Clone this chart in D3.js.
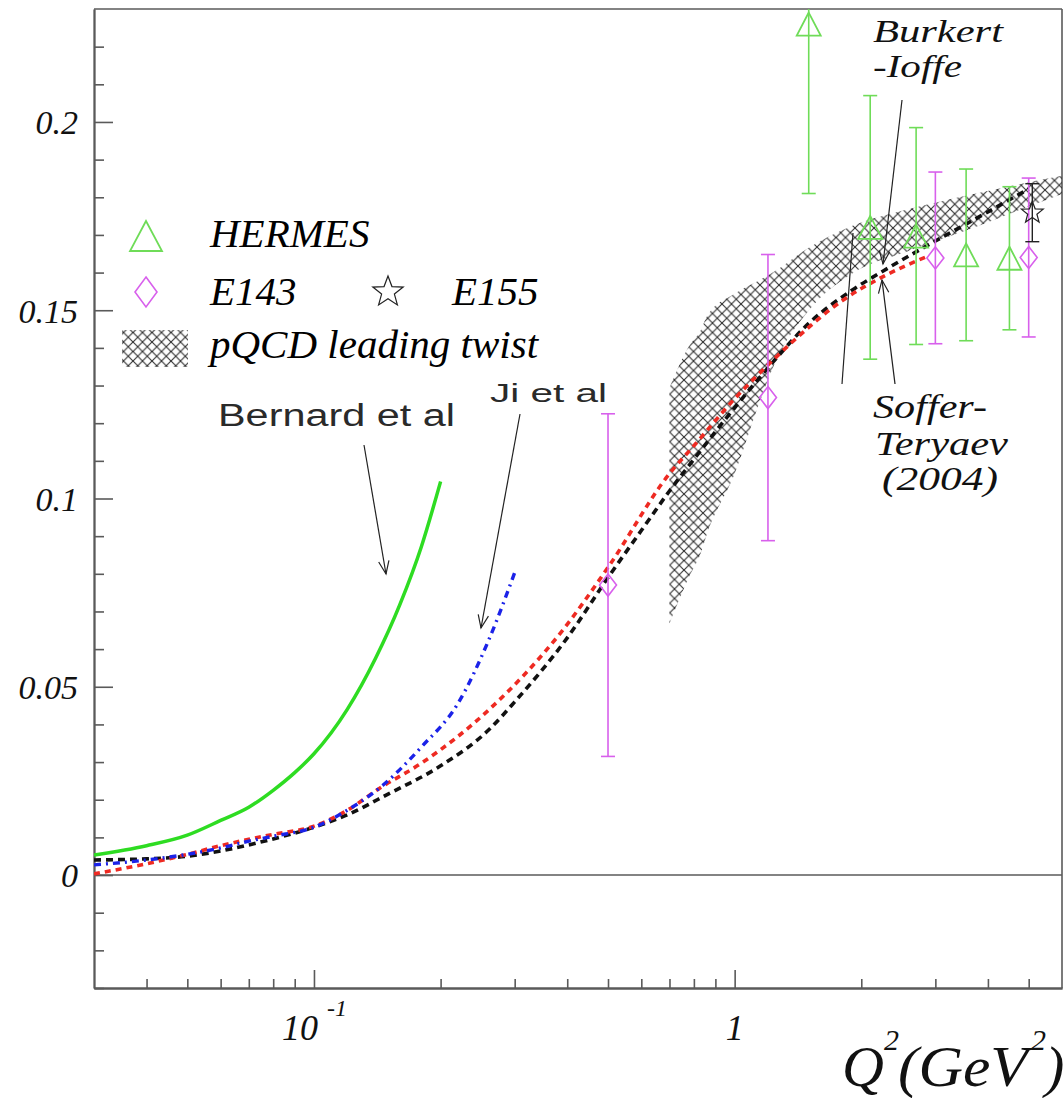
<!DOCTYPE html>
<html>
<head>
<meta charset="utf-8">
<script src="https://cdn.jsdelivr.net/npm/d3@7"></script>
<style>
  html, body { margin: 0; padding: 0; background: #fff; }
  svg { display: block; }
  .serif { font-family: "Liberation Serif", "DejaVu Serif", serif; font-style: italic; }
  .sans { font-family: "Liberation Sans", "DejaVu Sans", sans-serif; }
</style>
</head>
<body>
<svg id="chart" width="1064" height="1098"></svg>
<script>
// ---- data -------------------------------------------------------------
// HERMES points: Q^2, value, error
const hermesQ2  = [1.5, 2.1, 2.7, 3.55, 4.5];
const hermesVal = [0.226, 0.172, 0.1697, 0.1647, 0.1638];
const hermesErr = [0.045, 0.035, 0.0288, 0.0228, 0.019];

// E143 points
const e143Q2  = [0.5, 1.2, 3.0, 5.0];
const e143Val = [0.0770, 0.1268, 0.1639, 0.1640];
const e143Err = [0.0455, 0.038, 0.0228, 0.0211];

// E155 point
const e155Q2  = [5.1];
const e155Val = [0.1759];
const e155Err = [0.0077];

// Bernard et al (chiral perturbation theory)
const bernardQ2  = [0.03, 0.04, 0.05, 0.06, 0.07, 0.08, 0.09, 0.10, 0.12, 0.14, 0.16, 0.18, 0.20];
const bernardVal = [0.0053, 0.0078, 0.0106, 0.0145, 0.0180, 0.0225, 0.0272, 0.0322, 0.0440, 0.0575, 0.0718, 0.0872, 0.1045];

// Ji et al
const jiQ2  = [0.03, 0.04, 0.05, 0.06, 0.07, 0.08, 0.10, 0.12, 0.146, 0.18, 0.22, 0.26, 0.30];
const jiVal = [0.0027, 0.0040, 0.0055, 0.0072, 0.0090, 0.0103, 0.0127, 0.0172, 0.0239, 0.0340, 0.0456, 0.0623, 0.0803];

// Burkert-Ioffe
const biQ2  = [0.03, 0.04, 0.05, 0.06, 0.07, 0.08, 0.10, 0.12, 0.15, 0.20, 0.26, 0.30, 0.40, 0.50, 0.60, 0.70, 0.83, 1.0, 1.2, 1.5, 1.9, 2.26, 2.8, 3.7, 5.0];
const biVal = [0.0040, 0.0043, 0.0050, 0.0064, 0.0080, 0.0096, 0.0127, 0.0160, 0.0215, 0.0290, 0.0385, 0.0460, 0.0630, 0.0790, 0.0915, 0.1020, 0.1127, 0.1241, 0.1347, 0.1465, 0.1553, 0.1605, 0.1665, 0.1740, 0.1822];

// Soffer-Teryaev (2004)
const stQ2  = [0.03, 0.035, 0.04, 0.05, 0.06, 0.07, 0.08, 0.10, 0.12, 0.143, 0.18, 0.26, 0.39, 0.50, 0.70, 0.80, 1.0, 1.24, 1.4, 1.8, 2.26, 2.9];
const stVal = [0.0003, 0.0017, 0.0030, 0.0055, 0.0078, 0.0095, 0.0108, 0.0130, 0.0172, 0.0230, 0.0297, 0.0438, 0.0650, 0.0817, 0.1066, 0.1140, 0.1265, 0.1370, 0.1425, 0.1525, 0.1590, 0.1645];

// pQCD leading twist band
const bandQ2 = [0.70, 0.78, 0.83, 0.86, 1.0, 1.15, 1.24, 1.5, 1.9, 2.6, 3.7, 4.9, 6.0];
const bandLo = [0.0668, 0.0793, 0.0854, 0.0907, 0.1066, 0.1260, 0.1353, 0.1499, 0.1597, 0.1658, 0.1719, 0.1772, 0.1809];
const bandHi = [0.1294, 0.1406, 0.1446, 0.1485, 0.1544, 0.1581, 0.1602, 0.1666, 0.1724, 0.1769, 0.1809, 0.1838, 0.1857];

// axis ticks
const yMajorTicks  = [0, 0.05, 0.1, 0.15, 0.2];
const yTickLabels  = ["0", "0.05", "0.1", "0.15", "0.2"];
const yMinorTicks  = [-0.03, -0.02, -0.01, 0.01, 0.02, 0.03, 0.04, 0.06, 0.07, 0.08, 0.09, 0.11, 0.12, 0.13, 0.14, 0.16, 0.17, 0.18, 0.19, 0.21, 0.22];
const xMajorTicks  = [0.1, 1];
const xMinorTicks  = [0.04, 0.05, 0.06, 0.07, 0.08, 0.09, 0.2, 0.3, 0.4, 0.5, 0.6, 0.7, 0.8, 0.9, 2, 3, 4, 5];

// ---- layout -------------------------------------------------------------
const svg = d3.select("#chart");
const L = 94, R = 1062, T = 9, B = 988;
const x = d3.scaleLog().domain([0.03, 6]).range([L, R]);
const y = d3.scaleLinear().domain([-0.03, 0.23]).range([B, T]);

const axisColor = "#5a5a5a";
const greenLine = "#2edc22";
const greenMark = "#6fdc58";
const magenta   = "#d860ec";

const defs = svg.append("defs");
defs.append("clipPath").attr("id", "plotClip")
  .append("rect").attr("x", L).attr("y", T).attr("width", R - L).attr("height", B - T);

// cross-hatch pattern for the pQCD band
const hs = 9.5;
const hatch = defs.append("pattern").attr("id", "hatch")
  .attr("patternUnits", "userSpaceOnUse").attr("width", hs).attr("height", hs);
hatch.append("path")
  .attr("d", `M0,0 L${hs},${hs} M${hs},0 L0,${hs} M-1,${hs - 1} L1,${hs + 1} M${hs - 1},-1 L${hs + 1},1`)
  .attr("stroke", "#2c2c2c").attr("stroke-width", 1.1).attr("fill", "none");

// frame: top and right edges, zero line
svg.append("line").attr("x1", L).attr("x2", R).attr("y1", T).attr("y2", T)
  .attr("stroke", axisColor).attr("stroke-width", 1.6);
svg.append("line").attr("x1", R).attr("x2", R).attr("y1", T).attr("y2", B)
  .attr("stroke", axisColor).attr("stroke-width", 1.6);
svg.append("line").attr("x1", L).attr("x2", R).attr("y1", y(0)).attr("y2", y(0))
  .attr("stroke", axisColor).attr("stroke-width", 1.6);

// ---- axes -------------------------------------------------------------
function styleAxis(g) {
  g.select(".domain").attr("stroke", axisColor).attr("stroke-width", 1.8);
  g.selectAll(".tick line").attr("stroke", axisColor).attr("stroke-width", 1.6);
}

// y axis: major ticks with labels, minor ticks inside
const yAxisMajor = d3.axisLeft(y).tickValues(yMajorTicks)
  .tickSizeInner(-19).tickSizeOuter(0).tickPadding(16)
  .tickFormat((d, i) => yTickLabels[i]);
svg.append("g").attr("transform", `translate(${L},0)`).call(yAxisMajor).call(styleAxis)
  .call(g => g.selectAll("text").attr("class", "serif").attr("font-size", 34)
    .attr("fill", "#111").attr("dy", "0.35em"));
svg.append("g").attr("transform", `translate(${L},0)`)
  .call(d3.axisLeft(y).tickValues(yMinorTicks).tickSizeInner(-10).tickSizeOuter(0).tickFormat(""))
  .call(styleAxis);

// x axis: log decades with labels, minor ticks inside
const xAxisMajor = d3.axisBottom(x).tickValues(xMajorTicks)
  .tickSizeInner(-18).tickSizeOuter(0).tickFormat("");
svg.append("g").attr("transform", `translate(0,${B})`).call(xAxisMajor).call(styleAxis);
svg.append("g").attr("transform", `translate(0,${B})`)
  .call(d3.axisBottom(x).tickValues(xMinorTicks).tickSizeInner(-9).tickSizeOuter(0).tickFormat(""))
  .call(styleAxis);

// decade labels: 10^-1 and 1
const dec = svg.append("text").attr("class", "serif").attr("font-size", 36).attr("fill", "#111")
  .attr("x", x(0.1) - 32).attr("y", 1040);
dec.append("tspan").text("10");
dec.append("tspan").attr("font-size", 24).attr("dy", -24).attr("dx", 9).text("-1");
svg.append("text").attr("class", "serif").attr("font-size", 36).attr("fill", "#111")
  .attr("x", x(1)).attr("y", 1040).attr("text-anchor", "middle").text("1");

// axis title Q^2(GeV^2)
const title = svg.append("text").attr("class", "serif").attr("font-size", 58).attr("fill", "#111");
title.append("tspan").attr("x", 842).attr("y", 1086).text("Q");
title.append("tspan").attr("x", 884).attr("y", 1050).attr("font-size", 30).text("2");
title.append("tspan").attr("x", 898).attr("y", 1086)
  .attr("textLength", 130).attr("lengthAdjust", "spacingAndGlyphs").text("(GeV");
title.append("tspan").attr("x", 1031).attr("y", 1050).attr("font-size", 30).text("2");
title.append("tspan").attr("x", 1045).attr("y", 1086).text(")");

// ---- plot content -----------------------------------------------------
const plot = svg.append("g").attr("clip-path", "url(#plotClip)");

// pQCD band
const bandData = bandQ2.map((q, i) => ({ q, lo: bandLo[i], hi: bandHi[i] }));
plot.append("path").datum(bandData)
  .attr("d", d3.area().x(d => x(d.q)).y0(d => y(d.lo)).y1(d => y(d.hi)).curve(d3.curveMonotoneX))
  .attr("fill", "url(#hatch)");

// curves
const line = d3.line().x(d => x(d[0])).y(d => y(d[1])).curve(d3.curveMonotoneX);
const zip = (a, b) => a.map((v, i) => [v, b[i]]);

plot.append("path").datum(zip(bernardQ2, bernardVal)).attr("d", line)
  .attr("fill", "none").attr("stroke", greenLine).attr("stroke-width", 3.5);
plot.append("path").datum(zip(biQ2, biVal)).attr("d", line)
  .attr("fill", "none").attr("stroke", "#111").attr("stroke-width", 3.6).attr("stroke-dasharray", "7,5");
plot.append("path").datum(zip(stQ2, stVal)).attr("d", line)
  .attr("fill", "none").attr("stroke", "#ee2a22").attr("stroke-width", 3.6).attr("stroke-dasharray", "6,5");
plot.append("path").datum(zip(jiQ2, jiVal)).attr("d", line)
  .attr("fill", "none").attr("stroke", "#1b22e8").attr("stroke-width", 3.4).attr("stroke-dasharray", "7,5,2,5");

// marker shapes
function trianglePath(w, h) { return `M0,${-h / 2} L${w / 2},${h / 2} L${-w / 2},${h / 2} Z`; }
function diamondPath(w, h) { return `M0,${-h / 2} L${w / 2},0 L0,${h / 2} L${-w / 2},0 Z`; }
function starPath(r) {
  const pts = [];
  for (let k = 0; k < 10; k++) {
    const rr = k % 2 === 0 ? r : r * 0.42;
    const a = -Math.PI / 2 + k * Math.PI / 5;
    pts.push([rr * Math.cos(a), rr * Math.sin(a)]);
  }
  return "M" + pts.map(p => p.join(",")).join("L") + "Z";
}

// error bars with caps
function errorBars(q2, val, err, color, width) {
  const g = plot.append("g").attr("stroke", color).attr("stroke-width", width).attr("fill", "none");
  q2.forEach((q, i) => {
    const cx = x(q), y1 = y(val[i] + err[i]), y2 = y(val[i] - err[i]);
    g.append("line").attr("x1", cx).attr("x2", cx).attr("y1", y1).attr("y2", y2);
    g.append("line").attr("x1", cx - 7).attr("x2", cx + 7).attr("y1", y1).attr("y2", y1);
    g.append("line").attr("x1", cx - 7).attr("x2", cx + 7).attr("y1", y2).attr("y2", y2);
  });
}

errorBars(e143Q2, e143Val, e143Err, magenta, 1.6);
errorBars(hermesQ2, hermesVal, hermesErr, greenMark, 1.6);
errorBars(e155Q2, e155Val, e155Err, "#222", 1.4);

plot.append("g").selectAll("path").data(e143Q2).join("path")
  .attr("transform", (q, i) => `translate(${x(q)},${y(e143Val[i])})`)
  .attr("d", diamondPath(17, 22)).attr("fill", "none")
  .attr("stroke", magenta).attr("stroke-width", 1.6);
plot.append("g").selectAll("path").data(hermesQ2).join("path")
  .attr("transform", (q, i) => `translate(${x(q)},${y(hermesVal[i])})`)
  .attr("d", trianglePath(24, 23)).attr("fill", "none")
  .attr("stroke", greenMark).attr("stroke-width", 1.8);
plot.append("g").selectAll("path").data(e155Q2).join("path")
  .attr("transform", (q, i) => `translate(${x(q)},${y(e155Val[i])})`)
  .attr("d", starPath(11.5)).attr("fill", "none")
  .attr("stroke", "#222").attr("stroke-width", 1.2);

// ---- legend -------------------------------------------------------------
const leg = svg.append("g");
leg.append("path").attr("transform", "translate(146,236)").attr("d", trianglePath(32, 30))
  .attr("fill", "none").attr("stroke", greenMark).attr("stroke-width", 1.8);
leg.append("text").attr("class", "serif").attr("font-size", 41).attr("x", 210).attr("y", 247).text("HERMES");
leg.append("path").attr("transform", "translate(146,292)").attr("d", diamondPath(22, 30))
  .attr("fill", "none").attr("stroke", magenta).attr("stroke-width", 1.6);
leg.append("text").attr("class", "serif").attr("font-size", 41).attr("x", 210).attr("y", 305).text("E143");
leg.append("path").attr("transform", "translate(388,292)").attr("d", starPath(16))
  .attr("fill", "none").attr("stroke", "#222").attr("stroke-width", 1.2);
leg.append("text").attr("class", "serif").attr("font-size", 41).attr("x", 452).attr("y", 305).text("E155");
leg.append("rect").attr("x", 122).attr("y", 330).attr("width", 66).attr("height", 37)
  .attr("fill", "url(#hatch)");
leg.append("text").attr("class", "serif").attr("font-size", 41).attr("x", 210).attr("y", 358).text("pQCD leading twist");

// ---- annotations ------------------------------------------------------
function arrow(x1, y1, x2, y2, head) {
  svg.append("line").attr("x1", x1).attr("y1", y1).attr("x2", x2).attr("y2", y2)
    .attr("stroke", "#222").attr("stroke-width", 1.2);
  if (head) {
    const a = Math.atan2(y2 - y1, x2 - x1), len = 14, spread = 0.38;
    const p1 = [x2 - len * Math.cos(a - spread), y2 - len * Math.sin(a - spread)];
    const p2 = [x2 - len * Math.cos(a + spread), y2 - len * Math.sin(a + spread)];
    svg.append("path").attr("d", `M${p1[0]},${p1[1]} L${x2},${y2} L${p2[0]},${p2[1]}`)
      .attr("fill", "none").attr("stroke", "#222").attr("stroke-width", 1.2);
  }
}

svg.append("text").attr("class", "sans").attr("font-size", 31).attr("fill", "#2a2a2a")
  .attr("x", 218).attr("y", 426).attr("textLength", 237).attr("lengthAdjust", "spacingAndGlyphs")
  .text("Bernard et al");
arrow(364, 445, 386, 574, true);

svg.append("text").attr("class", "sans").attr("font-size", 26).attr("fill", "#2a2a2a")
  .attr("x", 490).attr("y", 402).attr("textLength", 117).attr("lengthAdjust", "spacingAndGlyphs")
  .text("Ji et al");
arrow(520, 414, 481, 628, true);

svg.append("text").attr("class", "serif").attr("font-size", 32).attr("fill", "#111")
  .attr("x", 873).attr("y", 42).attr("textLength", 130).attr("lengthAdjust", "spacingAndGlyphs")
  .text("Burkert");
svg.append("text").attr("class", "serif").attr("font-size", 32).attr("fill", "#111")
  .attr("x", 873).attr("y", 77).attr("textLength", 89).attr("lengthAdjust", "spacingAndGlyphs")
  .text("-Ioffe");
arrow(902, 100, 883, 264, true);

svg.append("text").attr("class", "serif").attr("font-size", 33).attr("fill", "#111")
  .attr("x", 873).attr("y", 418).attr("textLength", 114).attr("lengthAdjust", "spacingAndGlyphs")
  .text("Soffer-");
svg.append("text").attr("class", "serif").attr("font-size", 33).attr("fill", "#111")
  .attr("x", 875).attr("y", 455).attr("textLength", 133).attr("lengthAdjust", "spacingAndGlyphs")
  .text("Teryaev");
svg.append("text").attr("class", "serif").attr("font-size", 33).attr("fill", "#111")
  .attr("x", 882).attr("y", 490).attr("textLength", 116).attr("lengthAdjust", "spacingAndGlyphs")
  .text("(2004)");
arrow(895, 384, 882, 280, true);
arrow(842, 384, 853, 233, false);
</script>
</body>
</html>
